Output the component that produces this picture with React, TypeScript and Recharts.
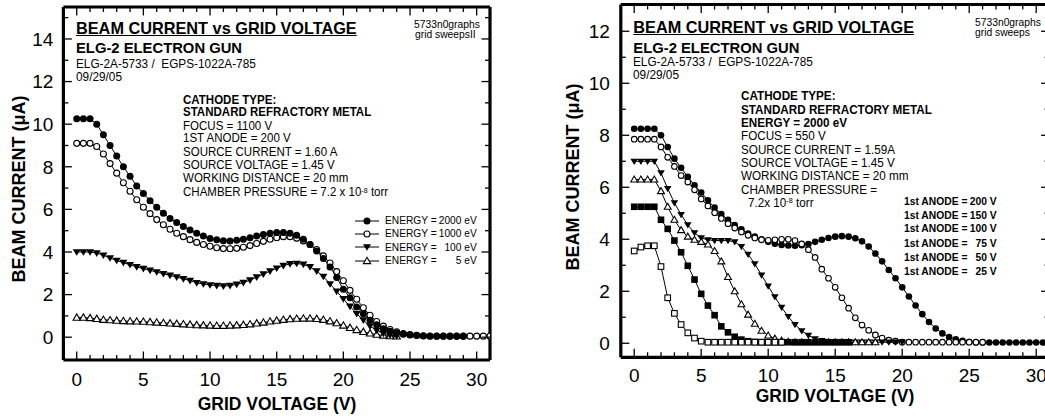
import React from 'react';
import { LineChart, Line, XAxis, YAxis } from 'recharts';

const FONT = '"Liberation Sans", Arial, Helvetica, sans-serif';

// Grid voltage sample points (V)
const GRID_VOLTS = [0,0.5,1,1.5,2,2.5,3,3.5,4,4.5,5,5.5,6,6.5,7,7.5,8,8.5,9,9.5,10,10.5,11,11.5,12,12.5,13,13.5,14,14.5,15,15.5,16,16.5,17,17.5,18,18.5,19,19.5,20,20.5,21,21.5,22,22.5,23,23.5,24,24.5,25,25.5,26,26.5,27,27.5,28,28.5,29,29.5,30,30.5,31];

// Left chart: beam current (uA) by energy
const E2000 = [10.25,10.25,10.25,10.0,9.5,9.0,8.5,8.0,7.55,7.1,6.75,6.4,6.1,5.82,5.57,5.38,5.2,5.03,4.88,4.75,4.63,4.57,4.53,4.52,4.55,4.6,4.67,4.75,4.82,4.88,4.92,4.92,4.88,4.78,4.6,4.35,4.05,3.7,3.3,2.8,2.25,1.85,1.42,1.1,0.8,0.58,0.4,0.28,0.2,0.14,0.1,0.08,0.06,0.05,0.05,0.05,0.05,0.05,0.05];
const E1000 = [9.1,9.1,9.1,8.95,8.6,8.15,7.7,7.25,6.85,6.45,6.1,5.8,5.52,5.28,5.07,4.88,4.72,4.58,4.45,4.35,4.27,4.2,4.16,4.15,4.17,4.22,4.3,4.4,4.5,4.6,4.67,4.72,4.72,4.65,4.52,4.35,4.12,3.82,3.48,3.08,2.65,2.2,1.78,1.38,1.03,0.74,0.52,0.36,0.25,0.17,0.12,0.09,0.07,0.06,0.05,0.05,0.05,0.05,0.05,0.05,0.05,0.05,0.05];
const E100 = [4.0,4.0,4.0,3.95,3.85,3.72,3.6,3.5,3.4,3.3,3.22,3.14,3.06,2.98,2.9,2.82,2.74,2.66,2.55,2.5,2.45,2.42,2.4,2.42,2.48,2.56,2.68,2.82,2.96,3.1,3.24,3.36,3.44,3.46,3.42,3.3,3.1,2.85,2.5,2.15,1.8,1.45,1.1,0.8,0.52,0.32,0.18,0.1,0.06];
const E5 = [0.92,0.92,0.9,0.86,0.82,0.8,0.78,0.76,0.75,0.74,0.73,0.71,0.69,0.67,0.65,0.63,0.61,0.59,0.57,0.56,0.55,0.54,0.54,0.55,0.56,0.58,0.61,0.65,0.69,0.74,0.78,0.82,0.85,0.87,0.88,0.88,0.86,0.82,0.75,0.66,0.55,0.44,0.34,0.25,0.18,0.12,0.08,0.05,0.04];

// Right chart: beam current (uA) by 1st anode voltage
const A200 = [8.25,8.25,8.25,8.25,8.0,7.55,7.1,6.75,6.4,6.08,5.8,5.5,5.22,4.97,4.75,4.55,4.38,4.22,4.1,4.0,3.9,3.83,3.78,3.76,3.75,3.77,3.82,3.9,3.98,4.05,4.1,4.12,4.1,4.04,3.92,3.72,3.45,3.15,2.82,2.5,2.15,1.8,1.45,1.12,0.82,0.57,0.38,0.24,0.15,0.09,0.05,0.03,0.03,0.03,0.03,0.03,0.03,0.03,0.03,0.03,0.03,0.03,0.03];
const A150 = [7.85,7.85,7.85,7.85,7.55,7.15,6.8,6.45,6.2,5.9,5.55,5.28,5.02,4.8,4.6,4.43,4.28,4.15,4.05,3.98,3.96,3.98,4.0,4.0,3.95,3.82,3.6,3.3,2.85,2.5,2.15,1.75,1.35,0.98,0.7,0.5,0.32,0.2,0.12,0.08,0.04,0.04,0.04,0.04,0.04,0.04,0.04,0.04,0.04,0.04,0.04,0.04,0.04];
const A100 = [7.0,7.0,7.0,7.0,6.55,5.95,5.4,4.95,4.55,4.25,4.05,3.98,3.95,3.95,3.95,3.9,3.72,3.42,3.05,2.62,2.2,1.78,1.38,1.02,0.72,0.48,0.3,0.17,0.1,0.06,0.04,0.04,0.04,0.04,0.04,0.04,0.04,0.04,0.04,0.04,0.04];
const A75 = [6.3,6.3,6.3,6.3,5.85,5.25,4.75,4.35,4.1,3.98,3.9,3.8,3.55,3.15,2.55,2.0,1.5,1.1,0.75,0.48,0.3,0.18,0.1,0.06,0.04,0.04,0.04,0.04,0.04,0.04,0.04,0.04,0.04,0.04,0.04,0.04,0.04];
const A50 = [5.25,5.25,5.25,5.25,4.75,4.4,3.95,3.5,2.98,2.45,1.9,1.45,1.08,0.65,0.42,0.25,0.14,0.08,0.05,0.04,0.04,0.04,0.04,0.04,0.04,0.04,0.04,0.04,0.04,0.04,0.04,0.04,0.04];
const A25 = [3.55,3.7,3.75,3.75,2.95,1.75,1.15,0.72,0.4,0.2,0.08,0.04,0.04,0.04,0.04,0.04,0.04,0.04,0.04,0.04,0.04,0.04,0.04];

// Tick values
const X_LABEL_TICKS = [0,5,10,15,20,25,30];
const X_TICKS = [0,1,2,3,4,5,6,7,8,9,10,11,12,13,14,15,16,17,18,19,20,21,22,23,24,25,26,27,28,29,30];
const LEFT_Y_LABEL_TICKS = [0,2,4,6,8,10,12,14];
const LEFT_Y_TICKS = [0,1,2,3,4,5,6,7,8,9,10,11,12,13,14,15];
const RIGHT_Y_LABEL_TICKS = [0,2,4,6,8,10,12];
const RIGHT_Y_TICKS = [0,1,2,3,4,5,6,7,8,9,10,11,12,13];

const LEFT_LEGEND = [
  { value: '2000 eV', shape: 'filledCircle' },
  { value: '1000 eV', shape: 'openCircle' },
  { value: '100 eV', shape: 'filledTriDown' },
  { value: '5 eV', shape: 'openTriUp' },
];
const RIGHT_LEGEND = ['200 V', '150 V', '100 V', '75 V', '50 V', '25 V'];

const pair = (vals: number[]) => vals.map((i, k) => ({ v: GRID_VOLTS[k], i }));

const LEFT_SERIES = [
  { key: 'e5', data: pair(E5), shape: 'openTriUp' },
  { key: 'e100', data: pair(E100), shape: 'filledTriDown' },
  { key: 'e1000', data: pair(E1000), shape: 'openCircle' },
  { key: 'e2000', data: pair(E2000), shape: 'filledCircle' },
];
const RIGHT_SERIES = [
  { key: 'a200', data: pair(A200), shape: 'filledCircle' },
  { key: 'a150', data: pair(A150), shape: 'openCircle' },
  { key: 'a100', data: pair(A100), shape: 'filledTriDown' },
  { key: 'a75', data: pair(A75), shape: 'openTriUp' },
  { key: 'a50', data: pair(A50), shape: 'filledSquare' },
  { key: 'a25', data: pair(A25), shape: 'openSquare' },
];

function drawMarker(shape: string, cx: number, cy: number, s: number, key?: any) {
  const sw = 1.1;
  switch (shape) {
    case 'filledCircle':
      return <circle key={key} cx={cx} cy={cy} r={s} fill="#000" />;
    case 'openCircle':
      return <circle key={key} cx={cx} cy={cy} r={s - 0.5} fill="#fff" stroke="#000" strokeWidth={sw} />;
    case 'filledTriDown':
      return <path key={key} d={`M${cx - s * 1.15},${cy - s * 0.8}L${cx + s * 1.15},${cy - s * 0.8}L${cx},${cy + s * 1.1}Z`} fill="#000" />;
    case 'openTriUp':
      return <path key={key} d={`M${cx - s * 1.05},${cy + s * 0.75}L${cx + s * 1.05},${cy + s * 0.75}L${cx},${cy - s * 1.05}Z`} fill="#fff" stroke="#000" strokeWidth={sw} />;
    case 'filledSquare':
      return <rect key={key} x={cx - s} y={cy - s} width={2 * s} height={2 * s} fill="#000" />;
    case 'openSquare':
      return <rect key={key} x={cx - s + 0.5} y={cy - s + 0.5} width={2 * s - 1} height={2 * s - 1} fill="#fff" stroke="#000" strokeWidth={sw} />;
    default:
      return <g key={key} />;
  }
}

const FRAME = { stroke: '#000', strokeWidth: 3.2 };
const TICK_W = 1.3;

const tickBottom = (p: any) => {
  const v = p.payload.value;
  const len = v % 5 === 0 ? 8.5 : 5;
  return <line key={`tb${v}`} x1={p.x} x2={p.x} y1={p.y} y2={p.y - len} stroke="#000" strokeWidth={TICK_W} />;
};
const tickTop = (p: any) => {
  const v = p.payload.value;
  const len = v % 5 === 0 ? 8.5 : 5;
  return <line key={`tt${v}`} x1={p.x} x2={p.x} y1={p.y} y2={p.y + len} stroke="#000" strokeWidth={TICK_W} />;
};
const tickLeft = (p: any) => {
  const v = p.payload.value;
  const len = v % 2 === 0 ? 8.5 : 5;
  return <line key={`tl${v}`} x1={p.x} x2={p.x + len} y1={p.y} y2={p.y} stroke="#000" strokeWidth={TICK_W} />;
};
const tickRight = (p: any) => {
  const v = p.payload.value;
  const len = v % 2 === 0 ? 8.5 : 5;
  return <line key={`tr${v}`} x1={p.x} x2={p.x - len} y1={p.y} y2={p.y} stroke="#000" strokeWidth={TICK_W} />;
};

function Panel(props: any) {
  const { left, width, margin, yDomain, yLabelTicks, yTicks, yLabW, xLabH, xTickMargin, yTickMargin, series, ms } = props;
  const xDomain = [-1, 31];
  return (
    <div style={{ position: 'absolute', left, top: 0 }}>
      <LineChart width={width} height={417} margin={margin}>
        <XAxis xAxisId="lab" dataKey="v" type="number" domain={xDomain} allowDataOverflow ticks={X_LABEL_TICKS} interval={0}
          tickLine={false} axisLine={false} height={xLabH} tickSize={0} tickMargin={xTickMargin}
          tick={{ fontSize: 19, fill: '#000', fontFamily: FONT }} />
        <XAxis xAxisId="b" dataKey="v" type="number" domain={xDomain} allowDataOverflow ticks={X_TICKS} interval={0}
          orientation="bottom" mirror height={1} tickLine={false} tickSize={0} tickMargin={0} axisLine={FRAME} tick={tickBottom} />
        <XAxis xAxisId="t" dataKey="v" type="number" domain={xDomain} allowDataOverflow ticks={X_TICKS} interval={0}
          orientation="top" mirror height={1} tickLine={false} tickSize={0} tickMargin={0} axisLine={FRAME} tick={tickTop} />
        <YAxis yAxisId="lab" dataKey="i" type="number" domain={yDomain} allowDataOverflow ticks={yLabelTicks} interval={0}
          tickLine={false} axisLine={false} width={yLabW} tickSize={0} tickMargin={yTickMargin}
          tick={{ fontSize: 19, fill: '#000', fontFamily: FONT }} />
        <YAxis yAxisId="l" dataKey="i" type="number" domain={yDomain} allowDataOverflow ticks={yTicks} interval={0}
          orientation="left" mirror width={1} tickLine={false} tickSize={0} tickMargin={0} axisLine={FRAME} tick={tickLeft} />
        <YAxis yAxisId="r" dataKey="i" type="number" domain={yDomain} allowDataOverflow ticks={yTicks} interval={0}
          orientation="right" mirror width={1} tickLine={false} tickSize={0} tickMargin={0} axisLine={FRAME} tick={tickRight} />
        {series.map((s: any) => (
          <Line key={s.key} xAxisId="lab" yAxisId="lab" data={s.data} dataKey="i" type="linear"
            stroke="#000" strokeWidth={1} isAnimationActive={false} activeDot={false}
            dot={(p: any) => drawMarker(s.shape, p.cx, p.cy, ms, `${s.key}-${p.index}`)} />
        ))}
      </LineChart>
    </div>
  );
}

function Txt(props: any) {
  const { x, base, size, bold, sx = 1, underline, children } = props;
  return (
    <div style={{
      position: 'absolute', left: x, top: base - 0.8465 * size, fontSize: size, lineHeight: `${size}px`,
      fontWeight: bold ? 700 : 400, whiteSpace: 'pre', fontFamily: FONT, color: '#000',
      transform: sx !== 1 ? `scaleX(${sx})` : undefined, transformOrigin: 'left top',
      textDecoration: underline ? 'underline' : undefined,
    }}>{children}</div>
  );
}

function RTxt(props: any) {
  const { right, base, size, bold, children } = props;
  return (
    <div style={{
      position: 'absolute', left: right - 80, width: 80, textAlign: 'right', top: base - 0.8465 * size,
      fontSize: size, lineHeight: `${size}px`, fontWeight: bold ? 700 : 400, whiteSpace: 'pre',
      fontFamily: FONT, color: '#000',
    }}>{children}</div>
  );
}

function CTxt(props: any) {
  const { cx, base, size, sx = 1, children } = props;
  return (
    <div style={{
      position: 'absolute', left: cx - 150, width: 300, textAlign: 'center', top: base - 0.7465 * size,
      fontSize: size, lineHeight: `${0.8 * size}px`, fontWeight: 700, whiteSpace: 'pre', fontFamily: FONT, color: '#000',
      transform: `scaleX(${sx})`, transformOrigin: 'center top',
    }}>{children}</div>
  );
}

function VTxt(props: any) {
  const { cx, cy, size, children } = props;
  return (
    <div style={{
      position: 'absolute', left: cx - 150, top: cy - size / 2, width: 300, height: size, textAlign: 'center',
      fontSize: size, lineHeight: `${size}px`, fontWeight: 700, whiteSpace: 'pre', fontFamily: FONT, color: '#000',
      transform: 'rotate(-90deg)', transformOrigin: 'center center',
    }}>{children}</div>
  );
}

const Sup = ({ children }: any) => (
  <span style={{ fontSize: '0.62em', position: 'relative', top: '-0.45em', lineHeight: 0 }}>{children}</span>
);

export default function App() {
  const leftBlock = [
    { t: 'CATHODE TYPE:', b: true },
    { t: 'STANDARD REFRACTORY METAL', b: true },
    { t: 'FOCUS = 1100 V' },
    { t: '1ST ANODE = 200 V' },
    { t: 'SOURCE CURRENT = 1.60 A' },
    { t: 'SOURCE VOLTAGE = 1.45 V' },
    { t: 'WORKING DISTANCE = 20 mm' },
  ];
  const leftBases = [104, 116.8, 130, 142.8, 156.5, 169.3, 182.5];
  const rightBlock = [
    { t: 'CATHODE TYPE:', b: true },
    { t: 'STANDARD REFRACTORY METAL', b: true },
    { t: 'ENERGY = 2000 eV', b: true },
    { t: 'FOCUS = 550 V' },
    { t: 'SOURCE CURRENT = 1.59A' },
    { t: 'SOURCE VOLTAGE = 1.45 V' },
    { t: 'WORKING DISTANCE = 20 mm' },
    { t: 'CHAMBER PRESSURE =' },
  ];
  const rightBases = [100.7, 114, 127.3, 140.7, 154, 167.3, 180.7, 194];
  const leftLegendY = [220.7, 233.5, 247.3, 261];
  const rightLegendBases = [206, 219.3, 232.7, 247.3, 261.7, 276];

  return (
    <div style={{ position: 'fixed', left: 0, top: 0, width: 1045, height: 417, overflow: 'hidden', background: '#fff', fontFamily: FONT }}>
      <Panel left={0} width={520} margin={{ top: 7, right: 30, bottom: 0, left: 0 }}
        yDomain={[-1.07, 15.5]} yLabelTicks={LEFT_Y_LABEL_TICKS} yTicks={LEFT_Y_TICKS}
        yLabW={63.4} xLabH={57} xTickMargin={13} yTickMargin={10} series={LEFT_SERIES} ms={3.5} />
      <Panel left={520} width={540} margin={{ top: 4.5, right: 10.4, bottom: 0, left: 0 }}
        yDomain={[-0.54, 13.03]} yLabelTicks={RIGHT_Y_LABEL_TICKS} yTicks={RIGHT_Y_TICKS}
        yLabW={100.8} xLabH={59.7} xTickMargin={11} yTickMargin={11} series={RIGHT_SERIES} ms={3.3} />

      {/* Left panel texts */}
      <Txt x={76} base={33.3} size={16.3} bold underline>BEAM CURRENT vs GRID VOLTAGE</Txt>
      <Txt x={414} base={28.5} size={10.3}>5733n0graphs</Txt>
      <Txt x={415} base={38.5} size={10.3}>grid sweepsII</Txt>
      <Txt x={76} base={54} size={14.8} bold>ELG-2 ELECTRON GUN</Txt>
      <Txt x={76} base={68} size={12.3} sx={0.96}>{'ELG-2A-5733 /  EGPS-1022A-785'}</Txt>
      <Txt x={76} base={81.7} size={12.3} sx={0.96}>09/29/05</Txt>
      {leftBlock.map((l, k) => (
        <Txt key={k} x={183.3} base={leftBases[k]} size={12.4} sx={0.93} bold={l.b}>{l.t}</Txt>
      ))}
      <Txt x={183.3} base={196.5} size={12.4} sx={0.93}>CHAMBER PRESSURE = 7.2 x 10<Sup>-8</Sup> torr</Txt>
      {LEFT_LEGEND.map((e, k) => (
        <React.Fragment key={k}>
          <svg style={{ position: 'absolute', left: 353, top: leftLegendY[k] - 6 }} width={28} height={12}>
            <line x1={2} x2={26} y1={6} y2={6} stroke="#000" strokeWidth={1} />
            {drawMarker(e.shape, 14, 6, 3.5)}
          </svg>
          <Txt x={385} base={leftLegendY[k] + 4} size={10.2}>ENERGY =</Txt>
          <RTxt right={476.7} base={leftLegendY[k] + 4} size={10.2}>{e.value}</RTxt>
        </React.Fragment>
      ))}
      <CTxt cx={277} base={410.5} size={18} sx={0.97}>GRID VOLTAGE (V)</CTxt>
      <VTxt cx={19} cy={189} size={18}>BEAM CURRENT (μA)</VTxt>

      {/* Right panel texts */}
      <Txt x={633.3} base={32.7} size={16.3} bold underline>BEAM CURRENT vs GRID VOLTAGE</Txt>
      <Txt x={975} base={26.5} size={10.3}>5733n0graphs</Txt>
      <Txt x={975} base={36.5} size={10.3}>grid sweeps</Txt>
      <Txt x={633.3} base={53.3} size={14.8} bold>ELG-2 ELECTRON GUN</Txt>
      <Txt x={633.3} base={66} size={12.3} sx={0.96}>{'ELG-2A-5733 /  EGPS-1022A-785'}</Txt>
      <Txt x={633.3} base={79.3} size={12.3} sx={0.96}>09/29/05</Txt>
      {rightBlock.map((l, k) => (
        <Txt key={k} x={741} base={rightBases[k]} size={12.3} sx={0.95} bold={l.b}>{l.t}</Txt>
      ))}
      <Txt x={748.3} base={207.3} size={12.3} sx={0.95}>7.2x 10<Sup>-8</Sup> torr</Txt>
      {RIGHT_LEGEND.map((v, k) => (
        <React.Fragment key={k}>
          <Txt x={904} base={rightLegendBases[k]} size={10.3} bold>1st ANODE =</Txt>
          <RTxt right={996.7} base={rightLegendBases[k]} size={10.3} bold>{v}</RTxt>
        </React.Fragment>
      ))}
      <CTxt cx={835} base={402.5} size={18} sx={0.97}>GRID VOLTAGE (V)</CTxt>
      <VTxt cx={573} cy={177} size={18}>BEAM CURRENT (μA)</VTxt>
    </div>
  );
}
